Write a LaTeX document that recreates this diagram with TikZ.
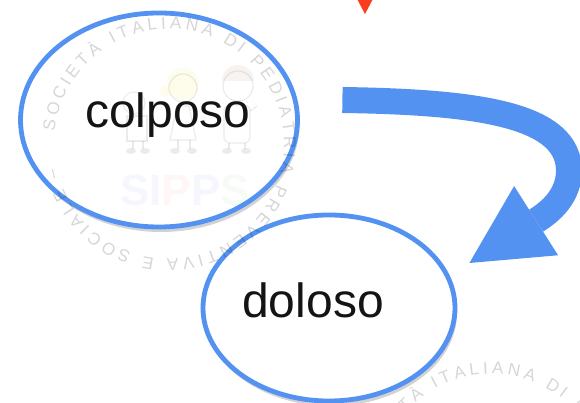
\documentclass[tikz,border=0pt]{standalone}
\usepackage{fontspec}
\setmainfont{Liberation Sans}
\newfontfamily\ringfont{Liberation Sans}
\usetikzlibrary{shapes.geometric,arrows.meta,decorations.text,shadows}
\definecolor{sippsblue}{RGB}{84,146,242}
\definecolor{alertred}{RGB}{252,62,32}
\definecolor{hairbrown}{RGB}{150,110,70}

\begin{document}
\begin{tikzpicture}[x=1pt,y=1pt,
    bubble/.style={ellipse,draw=sippsblue,line width=4.8pt,fill=white,
      drop shadow={shadow xshift=2pt,shadow yshift=-5pt,opacity=.25,fill=black!70}},
    word/.style={anchor=base,font=\fontsize{48}{56}\selectfont,text=black!92},
  ]
  \useasboundingbox (0,0) rectangle (580,403);
  % tip of the red arrow from above
  \fill[alertred] (356,406) -- (374,406) -- (365,389) -- cycle;
  % the two ellipses
  \node[bubble,minimum width=277pt,minimum height=214pt] (colposo) at (159,283) {};
  \node[bubble,minimum width=252pt,minimum height=186pt] (doloso) at (329,95) {};
  % faint logo: children and SIPPS
  \begin{scope}[opacity=.08,line width=1.2pt]
    \draw (134,300) circle (11);
    \draw (127,262) rectangle (147,287);
    \draw (133,262) -- (133,254) (143,262) -- (143,254);
    \fill (131,252) ellipse (5 and 3) (145,252) ellipse (5 and 3);
    \fill[yellow!80!orange] (183,319) circle (16) (166,312) circle (6);
    \draw (183,315) circle (14);
    \draw (170,263) -- (196,263) -- (189,297) -- (177,297) -- cycle;
    \draw (178,263) -- (178,254) (190,263) -- (190,254);
    \fill (175,252) ellipse (5 and 3) (192,252) ellipse (5 and 3);
    \fill[hairbrown] (222,322) arc[start angle=180,end angle=0,radius=16] -- cycle;
    \draw (238,317) circle (15);
    \draw[rounded corners=6pt] (224,260) rectangle (250,298);
    \draw (250,292) -- (257,297);
    \draw (229,260) -- (229,254) (245,260) -- (245,254);
    \fill (227,252) ellipse (5 and 3) (246,252) ellipse (5 and 3);
  \end{scope}
  \node[font=\bfseries\fontsize{44}{44}\selectfont,opacity=.035] (sipps) at (185,213)
    {\textcolor{blue}{S}\textcolor{blue}{I}\textcolor{red}{P}\textcolor{blue}{P}\textcolor{green!60!black}{S}};
  % words in the ellipses
  \node[word] (colpword) at (168,275) {colposo};
  \node[word] (dolword) at (313,85) {doloso};
  % big curved arrow
  \coordinate (from) at ([xshift=42.5pt,yshift=20pt]colposo.east);
  \coordinate (to) at ([xshift=12pt,yshift=45pt]doloso.east);
  \draw[sippsblue,line width=26pt,-{Triangle[length=79pt,width=82pt,line width=0pt]}]
    (from) .. controls (480,301) and (570,288) .. (569,231)
    .. controls (568,203) and (545,188) .. (to);
  % ring text of the watermark
  \begin{scope}[opacity=.16]
    \foreach \cx/\cy in {169/259,491/-86}
      \path[decorate,decoration={text along path,text align={fit to path},
        text={|\ringfont\fontsize{17}{17}\selectfont|SOCIETÀ ITALIANA DI PEDIATRIA PREVENTIVA E SOCIALE –}}]
        (\cx,\cy) ++(174:115) arc[start angle=174,end angle=-168,radius=115];
  \end{scope}
\end{tikzpicture}
\end{document}
